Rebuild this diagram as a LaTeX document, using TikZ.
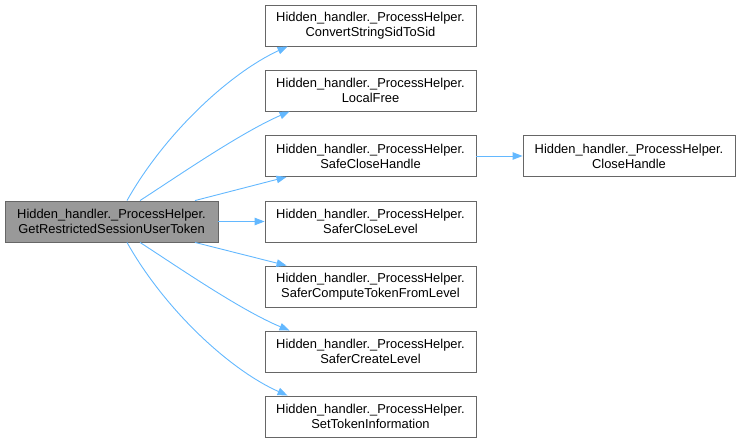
\documentclass[tikz,border=0pt]{standalone}
\usepackage{fontspec}
\setmainfont{Liberation Sans}
\usetikzlibrary{arrows.meta}
\definecolor{EdgeBlue}{HTML}{63B8FF}
\definecolor{BoxGray}{HTML}{666666}
\definecolor{MainFill}{HTML}{999999}

\begin{document}
\begin{tikzpicture}[x=1pt, y=-1pt,
        fn/.style={draw=BoxGray, line width=0.9pt, fill=white, align=center,
          minimum width=211pt, minimum height=41pt, inner sep=0pt,
          font=\fontsize{12.9}{15.2}\selectfont},
        cur/.style={fn, fill=MainFill, minimum width=213pt},
        edge/.style={draw=EdgeBlue, line width=0.9pt,
          -{Triangle[length=10pt, width=7.5pt]}},
      ]
      \useasboundingbox (0,0) rectangle (740,443);
      % caller
      \node[cur] (main) at (111.5,221.5) {Hidden\_handler.\_ProcessHelper.\\GetRestrictedSessionUserToken};
      % callees
      \node[fn] (convert) at (370.5,25.5) {Hidden\_handler.\_ProcessHelper.\\ConvertStringSidToSid};
      \node[fn] (localfree) at (370.5,90.5) {Hidden\_handler.\_ProcessHelper.\\LocalFree};
      \node[fn] (safeclose) at (370.5,156) {Hidden\_handler.\_ProcessHelper.\\SafeCloseHandle};
      \node[fn] (saferclose) at (370.5,221.5) {Hidden\_handler.\_ProcessHelper.\\SaferCloseLevel};
      \node[fn] (safercompute) at (370.5,286.5) {Hidden\_handler.\_ProcessHelper.\\SaferComputeTokenFromLevel};
      \node[fn] (safercreate) at (370.5,351.5) {Hidden\_handler.\_ProcessHelper.\\SaferCreateLevel};
      \node[fn] (settoken) at (370.5,416.5) {Hidden\_handler.\_ProcessHelper.\\SetTokenInformation};
      \node[fn, minimum width=212pt] (closehandle) at (629,156) {Hidden\_handler.\_ProcessHelper.\\CloseHandle};
      % calls
      \draw[edge] ([xshift=15.5pt]main.north) .. controls (165,133) and (230,73) .. ([xshift=23pt]convert.south west);
      \draw[edge] ([xshift=28.5pt]main.north) .. controls (175,178) and (240,133) .. ([xshift=25pt]localfree.south west);
      \draw[edge] ([xshift=83.5pt]main.north) -- ([xshift=22pt]safeclose.south west);
      \draw[edge] (main.east) -- (saferclose.west);
      \draw[edge] ([xshift=83.5pt]main.south) -- ([xshift=22pt]safercompute.north west);
      \draw[edge] ([xshift=28.5pt]main.south) .. controls (175,265) and (240,310) .. ([xshift=25pt]safercreate.north west);
      \draw[edge] ([xshift=15.5pt]main.south) .. controls (165,310) and (230,370) .. ([xshift=23pt]settoken.north west);
      \draw[edge] (safeclose.east) -- (closehandle.west);
    \end{tikzpicture}
\end{document}
